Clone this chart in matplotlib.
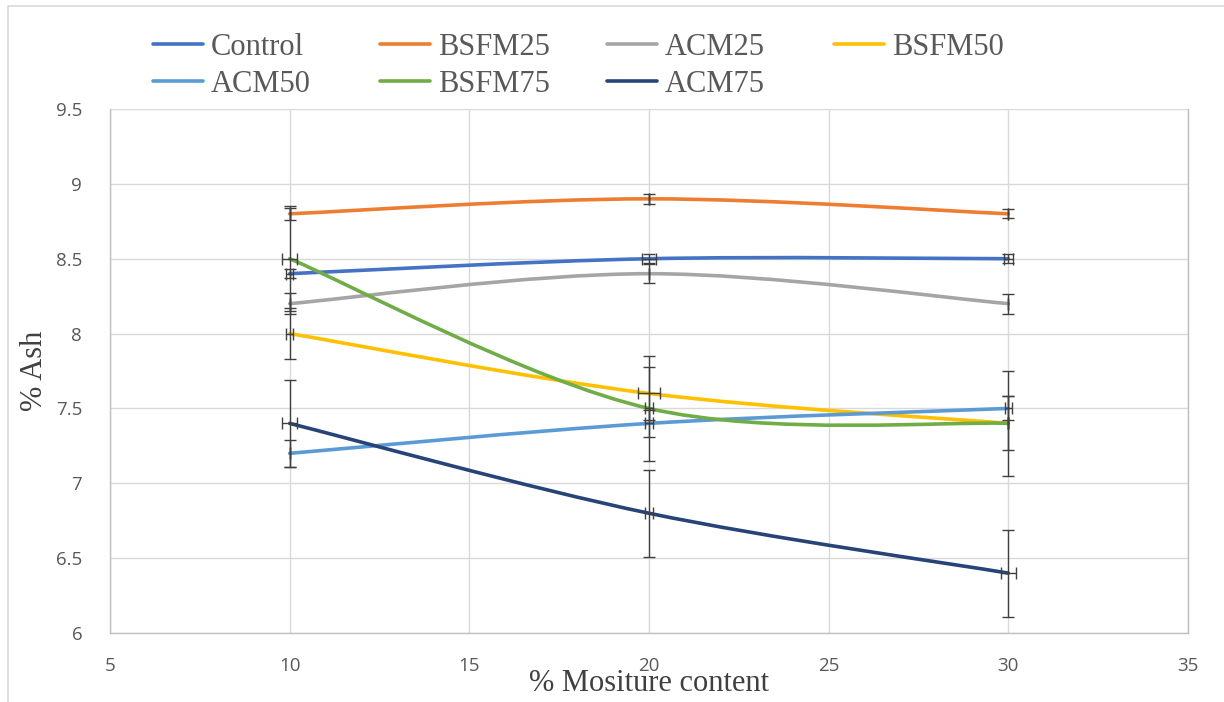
import matplotlib.pyplot as plt
from matplotlib.path import Path
from matplotlib.patches import PathPatch, Rectangle
from matplotlib.lines import Line2D

# moisture levels (%)
moisture = [10, 20, 30]

# mean ash content per formulation
control = [8.4, 8.5, 8.5]
bsfm25 = [8.8, 8.9, 8.8]
acm25 = [8.2, 8.4, 8.2]
bsfm50 = [8.0, 7.6, 7.4]
acm50 = [7.2, 7.4, 7.5]
bsfm75 = [8.5, 7.5, 7.4]
acm75 = [7.4, 6.8, 6.4]

# standard deviations (y) and x error
control_err = [0.03, 0.03, 0.03]
bsfm25_err = [0.04, 0.033, 0.03]
acm25_err = [0.07, 0.065, 0.067]
bsfm50_err = [0.17, 0.18, 0.18]
acm50_err = [0.09, 0.09, 0.08]
bsfm75_err = [0.35, 0.35, 0.35]
acm75_err = [0.29, 0.29, 0.29]

control_xerr = [0.1, 0.2, 0.12]
bsfm25_xerr = [0.0, 0.0, 0.0]
acm25_xerr = [0.0, 0.0, 0.0]
bsfm50_xerr = [0.1, 0.3, 0.0]
acm50_xerr = [0.0, 0.1, 0.1]
bsfm75_xerr = [0.2, 0.1, 0.0]
acm75_xerr = [0.2, 0.1, 0.2]

names = ['Control', 'BSFM25', 'ACM25', 'BSFM50', 'ACM50', 'BSFM75', 'ACM75']
values = [control, bsfm25, acm25, bsfm50, acm50, bsfm75, acm75]
yerrs = [control_err, bsfm25_err, acm25_err, bsfm50_err, acm50_err, bsfm75_err, acm75_err]
xerrs = [control_xerr, bsfm25_xerr, acm25_xerr, bsfm50_xerr, acm50_xerr, bsfm75_xerr, acm75_xerr]
colors = ['#4472C4', '#ED7D31', '#A5A5A5', '#FFC000', '#5B9BD5', '#70AD47', '#264478']


def smooth_path(xs, ys):
    # catmull-rom style bezier through the points (like a "smoothed line")
    pts = list(zip(xs, ys))
    ext = [pts[0]] + pts + [pts[-1]]
    verts = [pts[0]]
    codes = [Path.MOVETO]
    for i in range(1, len(ext) - 2):
        p0, p1, p2, p3 = ext[i - 1], ext[i], ext[i + 1], ext[i + 2]
        c1 = (p1[0] + (p2[0] - p0[0]) / 6.0, p1[1] + (p2[1] - p0[1]) / 6.0)
        c2 = (p2[0] - (p3[0] - p1[0]) / 6.0, p2[1] - (p3[1] - p1[1]) / 6.0)
        verts += [c1, c2, p2]
        codes += [Path.CURVE4] * 3
    return Path(verts, codes)


fig = plt.figure(figsize=(12.24, 7.02), dpi=100)
ax = fig.add_axes([110 / 1224, 69 / 702, 1078 / 1224, 524 / 702])

handles = []
for name, ys, ye, xe, c in zip(names, values, yerrs, xerrs, colors):
    patch = PathPatch(smooth_path(moisture, ys), facecolor='none', edgecolor=c,
                      lw=2.6, capstyle='round', zorder=3)
    ax.add_patch(patch)
    ax.errorbar(moisture, ys, yerr=ye, xerr=xe, fmt='none', ecolor='#404040',
                elinewidth=1.0, capsize=4.3, capthick=1.0, zorder=4)
    handles.append(Line2D([], [], color=c, lw=2.6, solid_capstyle='round'))

ax.set_xlim(5, 35)
ax.set_ylim(6, 9.5)
ax.set_xticks([5, 10, 15, 20, 25, 30, 35])
ax.set_yticks([6, 6.5, 7, 7.5, 8, 8.5, 9, 9.5])
ax.set_yticklabels(['6', '6.5', '7', '7.5', '8', '8.5', '9', '9.5'])
ax.grid(True, color='#d9d9d9', lw=1.0)
ax.set_axisbelow(True)
ax.tick_params(length=0, labelsize=13.5, labelcolor='#595959', pad=17)
for lab in ax.get_xticklabels() + ax.get_yticklabels():
    lab.set_fontfamily('Open Sans')
ax.tick_params(axis='y', pad=20)
ax.spines['top'].set_visible(False)
for s in ['left', 'bottom', 'right']:
    ax.spines[s].set_color('#bfbfbf')
    ax.spines[s].set_linewidth(1.0)

serif = 'Liberation Serif'
ax.set_xlabel('% Mositure content', fontfamily=serif, fontsize=22, color='#404040', labelpad=-4)
ax.set_ylabel('% Ash', fontfamily=serif, fontsize=22, color='#404040', labelpad=5)

# legend: 4 equal-width columns, two rows (one small legend per column)
ncols = 4
for j in range(ncols):
    idx = [i for i in (j, j + ncols) if i < len(names)]
    leg = fig.legend([handles[i] for i in idx], [names[i] for i in idx],
                     loc='upper left',
                     bbox_to_anchor=((153 + 227 * j) / 1224, 1 - 33 / 702),
                     frameon=False, borderpad=0, borderaxespad=0,
                     handlelength=1.65, handletextpad=0.25,
                     labelspacing=0.25, prop={'family': serif, 'size': 22})
    for t in leg.get_texts():
        t.set_color('#595959')

# chart area border
fig.patches.append(Rectangle((8 / 1224, -0.1), 1.2, (1 - 6 / 702) + 0.1,
                             transform=fig.transFigure, facecolor='none',
                             edgecolor='#d9d9d9', lw=1.2))

fig.savefig('out.png', dpi=100)
